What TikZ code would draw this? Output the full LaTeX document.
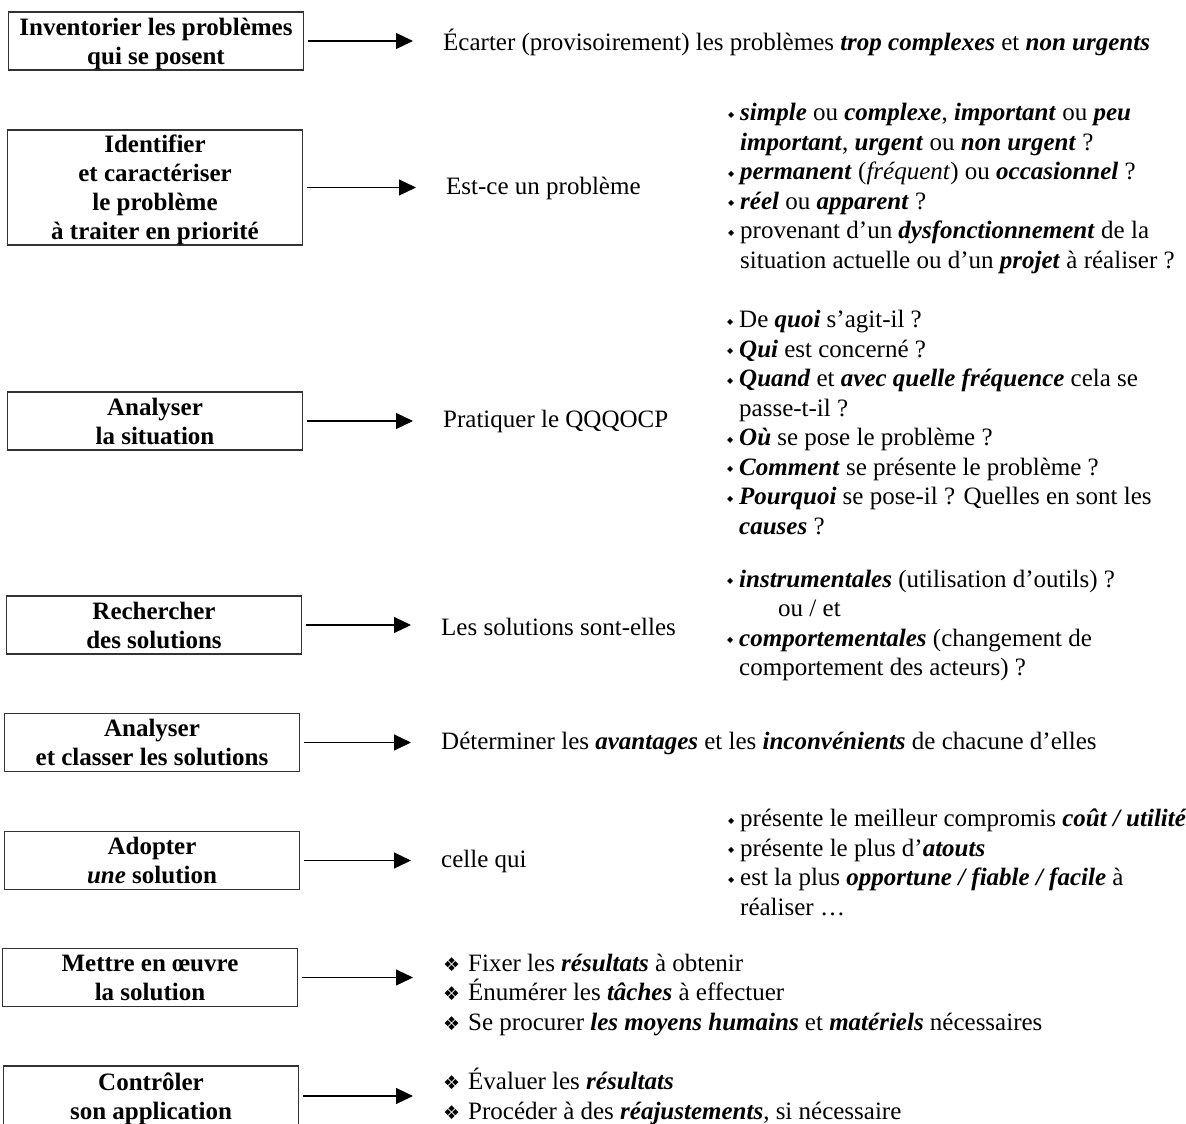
\documentclass[tikz,border=0pt]{standalone}
\usepackage{fontspec}
\setmainfont{Liberation Serif}
\newfontfamily\symbfont{DejaVu Sans}
\usetikzlibrary{positioning,arrows.meta}
\newcommand{\puce}{\makebox[12pt][l]{\raisebox{0.3ex}{\symbfont\fontsize{8}{8}\selectfont ◆}}}
\newcommand{\losange}{\makebox[25pt][l]{\symbfont\fontsize{19}{19}\selectfont ❖}}
\newcommand{\mot}[1]{\textbf{\textit{#1}}}
\newcommand{\suite}{\hspace*{12pt}}
\begin{document}
\begin{tikzpicture}[x=1pt, y=-1pt, every node/.style={font=\fontsize{25}{29.5}\selectfont}]
    \tikzset{etape/.style={draw=black!80, line width=1.4pt, minimum width=295pt, minimum height=58pt, inner sep=0pt, text depth=0pt, align=center, font=\bfseries\fontsize{25}{29}\selectfont}};
    \tikzset{texte/.style={anchor=west, inner sep=0pt, align=left}};
    \tikzset{fleche/.style={-{Triangle[length=17pt,width=16pt]}, line width=1.2pt, shorten <=4pt, shorten >=30pt}};
    \useasboundingbox[fill=white] (0,0) rectangle (1186,1124);
    % etapes
    \node[etape] (bInv) at (156,41) {Inventorier les problèmes\\qui se posent};
    \node[etape, minimum height=115pt] (bIdent) at (155,187.5) {Identifier\\et caractériser\\le problème\\à traiter en priorité};
    \node[etape] (bSit) at (155,421) {Analyser\\la situation};
    \node[etape] (bRech) at (154,625) {Rechercher\\des solutions};
    \node[etape] (bClass) at (152,742.5) {Analyser\\et classer les solutions};
    \node[etape] (bAdopt) at (152,860.5) {Adopter\\\textit{une} solution};
    \node[etape] (bMettre) at (150,977.5) {Mettre en œuvre\\la solution};
    \node[etape, minimum height=60pt] (bCtrl) at (151,1096) {Contrôler\\son application};
    % textes du milieu
    \node[texte] (tInv) at (443,42) {Écarter (provisoirement) les problèmes \mot{trop complexes} et \mot{non urgents}};
    \node[texte] (tIdent) at (446,188) {Est-ce un problème};
    \node[texte] (tSit) at (443,421) {Pratiquer le QQQOCP};
    \node[texte] (tRech) at (441,627) {Les solutions sont-elles};
    \node[texte] (tClass) at (441,743) {Déterminer les \mot{avantages} et les \mot{inconvénients} de chacune d’elles};
    \node[texte] (tAdopt) at (441,861) {celle qui};
    % listes
    \node[texte] (lIdent) at (728,188.5) {\puce\mot{simple} ou \mot{complexe}, \mot{important} ou \mot{peu}\\
        \suite\mot{important}, \mot{urgent} ou \mot{non urgent} ?\\
        \puce\mot{permanent} (\textit{fréquent}) ou \mot{occasionnel} ?\\
        \puce\mot{réel} ou \mot{apparent} ?\\
        \puce provenant d’un \mot{dysfonctionnement} de la\\
        \suite situation actuelle ou d’un \mot{projet} à réaliser ?};
    \node[texte] (lSit) at (727,422.5) {\puce De \mot{quoi} s’agit-il ?\\
        \puce\mot{Qui} est concerné ?\\
        \puce\mot{Quand} et \mot{avec quelle fréquence} cela se\\
        \suite passe-t-il ?\\
        \puce\mot{Où} se pose le problème ?\\
        \puce\mot{Comment} se présente le problème ?\\
        \puce\mot{Pourquoi} se pose-il ? Quelles en sont les\\
        \suite\mot{causes} ?};
    \node[texte] (lRech) at (727,625.5) {\puce\mot{instrumentales} (utilisation d’outils) ?\\
        \hspace*{51pt}ou / et\\
        \puce\mot{comportementales} (changement de\\
        \suite comportement des acteurs) ?};
    \node[texte] (lAdopt) at (728,862.5) {\puce présente le meilleur compromis \mot{coût / utilité}\\
        \puce présente le plus d’\mot{atouts}\\
        \puce est la plus \mot{opportune / fiable / facile} à\\
        \suite réaliser …};
    \node[texte] (lMettre) at (443,994.5) {\losange Fixer les \mot{résultats} à obtenir\\
        \losange Énumérer les \mot{tâches} à effectuer\\
        \losange Se procurer \mot{les moyens humains} et \mot{matériels} nécessaires};
    \node[texte] (lCtrl) at (443,1096.5) {\losange Évaluer les \mot{résultats}\\
        \losange Procéder à des \mot{réajustements}, si nécessaire};
    % fleches
    \draw[fleche] (bInv.east) -- (bInv.east -| tInv.west);
    \draw[fleche] (bIdent.east) -- (bIdent.east -| tIdent.west);
    \draw[fleche] (bSit.east) -- (bSit.east -| tSit.west);
    \draw[fleche] (bRech.east) -- (bRech.east -| tRech.west);
    \draw[fleche] (bClass.east) -- (bClass.east -| tClass.west);
    \draw[fleche] (bAdopt.east) -- (bAdopt.east -| tAdopt.west);
    \draw[fleche] (bMettre.east) -- (bMettre.east -| lMettre.west);
    \draw[fleche] (bCtrl.east) -- (bCtrl.east -| lCtrl.west);
\end{tikzpicture}
\end{document}
